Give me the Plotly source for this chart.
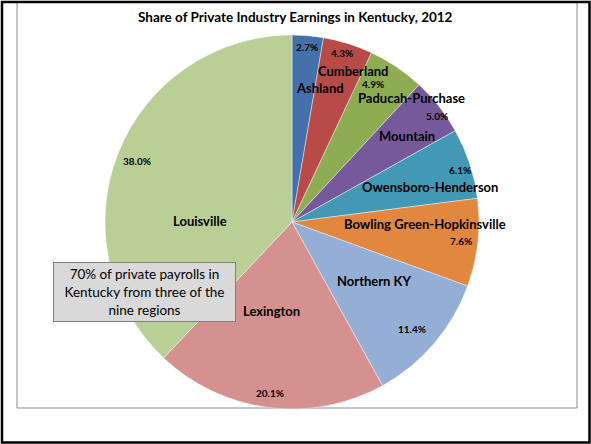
import math
import plotly.graph_objects as go

# ---- data ----
regions = ["Ashland", "Cumberland", "Paducah-Purchase", "Mountain", "Owensboro-Henderson",
           "Bowling Green-Hopkinsville", "Northern KY", "Lexington", "Louisville"]
shares = [2.7, 4.3, 4.9, 5.0, 6.1, 7.6, 11.4, 20.1, 38.0]
pct_labels = ["2.7%", "4.3%", "4.9%", "5.0%", "6.1%", "7.6%", "11.4%", "20.1%", "38.0%"]
title = "Share of Private Industry Earnings in Kentucky, 2012"
note = "70% of private payrolls in<br>Kentucky from three of the<br>nine regions"

# ---- style ----
colors = ["#4571AA", "#B84A47", "#8EAD52", "#76599A", "#4399B5",
          "#E1873F", "#95AED5", "#D4918F", "#B9CF96"]
pct_r = [0.94, 0.94, 0.855, 0.96, 0.94, 0.91, 0.86, 0.92, 0.89]
pct_dang = [0, -1, -3.5, 2, 1, 0, 1, 0, 0]
name_r = [0.73, 0.87, 0.92, 0.77, 0.76, 0.71, 0.54, 0.49, 0.49]
name_dang = [7, 4.5, 10, 1.4, 4.2, -5.6, -5, 5.6, -21.2]
FONT = "Lato, Calibri, sans-serif"

W, H = 591, 444
dom_x = [105 / W, 479 / W]
dom_y = [35 / H, 409 / H]
dom_y = [1 - dom_y[1], 1 - dom_y[0]]

fig = go.Figure(go.Pie(
    labels=regions, values=shares, sort=False, direction="clockwise", rotation=0,
    marker=dict(colors=colors, line=dict(color="rgba(255,255,255,0.6)", width=0.7)),
    textinfo="none", hoverinfo="label+percent", showlegend=False,
    domain=dict(x=dom_x, y=dom_y),
))

# pie geometry in pixels (derived from domain)
cx = (dom_x[0] + dom_x[1]) / 2 * W
cy = (1 - (dom_y[0] + dom_y[1]) / 2) * H
R = (dom_y[1] - dom_y[0]) * H / 2
total = sum(shares)

def to_paper(px, py):
    return px / W, 1 - py / H

annotations = []
cum = 0.0
for i, v in enumerate(shares):
    mid = (cum + v / 2) / total * 360.0
    cum += v
    # percentage label
    a = math.radians(mid + pct_dang[i])
    px, py = cx + pct_r[i] * R * math.sin(a), cy - pct_r[i] * R * math.cos(a)
    x, y = to_paper(px, py)
    annotations.append(dict(x=x, y=y, xref="paper", yref="paper", text="<b>%s</b>" % pct_labels[i],
                            showarrow=False, font=dict(family=FONT, size=10, color="black"),
                            xanchor="center", yanchor="middle"))
    # name label
    a = math.radians(mid + name_dang[i])
    px, py = cx + name_r[i] * R * math.sin(a), cy - name_r[i] * R * math.cos(a)
    x, y = to_paper(px, py)
    annotations.append(dict(x=x, y=y, xref="paper", yref="paper", text="<b>%s</b>" % regions[i],
                            showarrow=False, font=dict(family=FONT, size=13, color="black"),
                            xanchor="center", yanchor="middle"))

# title
annotations.append(dict(x=295 / W, y=1 - 17 / H, xref="paper", yref="paper",
                        text="<b>%s</b>" % title, showarrow=False,
                        font=dict(family=FONT, size=13.5, color="black"),
                        xanchor="center", yanchor="middle"))
# note box
annotations.append(dict(x=144.5 / W, y=1 - 292 / H, xref="paper", yref="paper",
                        text=note, showarrow=False, align="center",
                        font=dict(family=FONT, size=13.5, color="black"),
                        bgcolor="#D9D9D9", bordercolor="#7F7F7F", borderwidth=1,
                        width=177, height=54, borderpad=2,
                        xanchor="center", yanchor="middle"))

shapes = [
    dict(type="rect", xref="paper", yref="paper", x0=17 / W, x1=577 / W,
         y0=1 - 408 / H, y1=1 - 2 / H, line=dict(color="#8C8C8C", width=1), layer="below"),
    dict(type="rect", xref="paper", yref="paper", x0=2 / W, x1=589.5 / W,
         y0=1 - 442.5 / H, y1=1 - 2 / H, line=dict(color="black", width=2.5)),
]

fig.update_layout(
    width=W, height=H, margin=dict(l=0, r=0, t=0, b=0),
    paper_bgcolor="white", plot_bgcolor="white",
    annotations=annotations, shapes=shapes,
)

fig.write_html("out.html", config={"displayModeBar": False},
               post_script="document.body.style.margin='0px';document.body.style.padding='0px';")
